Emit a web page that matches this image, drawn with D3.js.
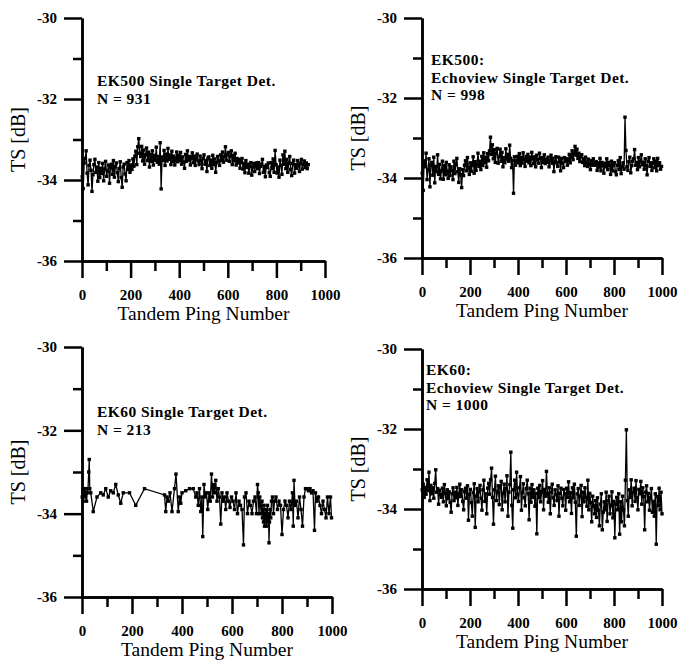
<!DOCTYPE html>
<html>
<head>
<meta charset="utf-8">
<script src="https://cdn.jsdelivr.net/npm/d3@7"></script>
<style>
  body { margin: 0; background: #fff; }
  svg text { font-family: "Liberation Serif", "Times New Roman", Times, serif; fill: #000; }
</style>
</head>
<body>
<div id="chart"></div>
<script>
// tick labels
var yMajorTicks = [-36, -34, -32, -30]
var yMinorTicks = [-35, -33, -31]
var xMajorTicks = [0, 200, 400, 600, 800, 1000]
var xMinorTicks = [100, 300, 500, 700, 900]

// EK500 single target detection, N = 931 (one value per ~4 pings)
var ek500Ts = [
  -33.92,-34.21,-33.58,-33.47,-33.28,-33.83,-34.12,-33.64,-33.51,-33.76,
  -34.28,-33.87,-33.62,-33.49,-33.81,-33.68,-34.03,-33.57,-33.94,-33.71,
  -33.84,-33.59,-34.02,-33.73,-33.54,-33.91,-33.78,-33.63,-34.08,-33.69,
  -33.61,-33.86,-33.52,-33.93,-33.67,-33.58,-33.82,-34.04,-33.72,-33.55,
  -33.94,-34.18,-33.68,-33.61,-33.85,-34.02,-33.57,-33.74,-33.52,-33.81,
  -33.63,-33.74,-33.48,-33.66,-33.41,-33.29,-33.62,-33.18,-32.98,-33.34,
  -33.42,-33.17,-33.53,-33.26,-33.61,-33.38,-33.21,-33.52,-33.31,-33.68,
  -33.37,-33.54,-33.28,-33.63,-33.39,-33.51,-33.19,-33.56,-33.42,-33.61,
  -33.08,-34.22,-33.43,-33.52,-33.27,-33.64,-33.36,-33.53,-33.22,-33.49,
  -33.38,-33.62,-33.29,-33.54,-33.41,-33.63,-33.47,-33.31,-33.55,-33.39,
  -33.52,-33.32,-33.61,-33.43,-33.56,-33.71,-33.37,-33.54,-33.28,-33.51,
  -33.42,-33.63,-33.46,-33.33,-33.57,-33.41,-33.64,-33.48,-33.36,-33.53,
  -33.62,-33.41,-33.53,-33.72,-33.47,-33.38,-33.61,-33.52,-33.79,-33.46,
  -33.43,-33.64,-33.51,-33.71,-33.39,-33.62,-33.48,-33.81,-33.57,-33.42,
  -33.53,-33.64,-33.38,-33.52,-33.31,-33.56,-33.42,-33.18,-33.51,-33.37,
  -33.32,-33.54,-33.41,-33.28,-33.62,-33.39,-33.53,-33.34,-33.63,-33.47,
  -33.58,-33.49,-33.71,-33.56,-33.47,-33.73,-33.59,-33.82,-33.52,-33.69,
  -33.61,-33.83,-33.66,-33.57,-33.88,-33.68,-33.59,-33.79,-33.64,-33.58,
  -33.72,-33.57,-33.84,-33.66,-33.61,-33.49,-33.81,-33.67,-33.92,-33.63,
  -33.69,-33.58,-33.82,-33.91,-33.57,-33.72,-33.48,-33.81,-33.27,-33.62,
  -33.83,-33.68,-33.93,-33.51,-33.64,-33.86,-33.38,-33.61,-33.29,-33.72,
  -33.49,-33.81,-33.58,-33.42,-33.74,-33.89,-33.59,-33.51,-33.83,-33.62,
  -33.71,-33.52,-33.63,-33.79,-33.58,-33.49,-33.73,-33.61,-33.53,-33.69,
  -33.58,-33.72,-33.62
]

// EK500 data, Echoview single target detection, N = 998
var ek500EvTs = [
  -33.88,-34.31,-33.57,-33.72,-33.38,-34.04,-33.79,-33.52,-34.22,-33.68,
  -33.61,-33.93,-33.48,-34.12,-33.71,-33.84,-33.42,-33.91,-33.66,-34.02,
  -33.82,-33.58,-34.03,-33.69,-33.92,-33.61,-33.83,-34.01,-33.67,-33.94,
  -33.72,-33.81,-34.04,-33.58,-33.89,-33.66,-33.51,-33.84,-34.11,-33.77,
  -33.92,-34.24,-33.79,-33.94,-33.68,-33.57,-33.82,-33.49,-33.73,-33.91,
  -33.62,-33.83,-33.68,-33.47,-33.88,-33.59,-33.81,-33.66,-33.38,-33.71,
  -33.58,-33.79,-33.46,-33.69,-33.37,-33.62,-33.48,-33.73,-33.39,-33.57,
  -33.32,-32.98,-33.41,-33.17,-33.52,-33.29,-33.61,-33.38,-33.26,-33.63,
  -33.47,-33.28,-33.58,-33.36,-33.72,-33.49,-33.62,-33.27,-33.53,-33.41,
  -33.58,-33.18,-33.51,-33.74,-33.56,-34.38,-33.47,-33.68,-33.57,-33.46,
  -33.62,-33.39,-33.69,-33.48,-33.63,-33.37,-33.54,-33.71,-33.46,-33.58,
  -33.41,-33.62,-33.48,-33.69,-33.36,-33.52,-33.64,-33.47,-33.72,-33.43,
  -33.54,-33.63,-33.38,-33.51,-33.74,-33.49,-33.61,-33.42,-33.64,-33.53,
  -33.61,-33.48,-33.72,-33.57,-33.43,-33.63,-33.51,-33.84,-33.59,-33.47,
  -33.62,-33.71,-33.48,-33.59,-33.82,-33.51,-33.63,-33.74,-33.49,-33.58,
  -33.52,-33.68,-33.57,-33.41,-33.62,-33.48,-33.32,-33.54,-33.39,-33.21,
  -33.43,-33.28,-33.51,-33.38,-33.59,-33.47,-33.42,-33.61,-33.52,-33.69,
  -33.48,-33.62,-33.71,-33.53,-33.64,-33.79,-33.57,-33.68,-33.52,-33.63,
  -33.68,-33.59,-33.81,-33.62,-33.73,-33.51,-33.82,-33.61,-33.69,-33.88,
  -33.63,-33.72,-33.52,-33.79,-33.61,-33.68,-33.91,-33.58,-33.82,-33.67,
  -33.62,-33.84,-33.92,-33.68,-33.57,-33.79,-33.49,-33.89,-33.71,-33.62,
  -33.78,-32.48,-33.31,-33.72,-33.81,-33.59,-33.48,-33.87,-33.69,-33.58,
  -33.52,-33.29,-33.68,-33.61,-33.79,-33.49,-33.72,-33.58,-33.42,-33.67,
  -33.61,-33.78,-33.52,-33.69,-33.92,-33.58,-33.49,-33.71,-33.62,-33.81,
  -33.63,-33.52,-33.74,-33.58,-33.82,-33.51,-33.69,-33.62,-33.78,-33.71
]

// EK60 single target detection, N = 213 (irregular ping numbers)
var ek60Ping = [
  1,3,5,7,9,11,13,15,18,21,24,27,29,31,35,45,60,75,85,95,
  105,115,125,135,145,155,165,190,215,250,330,335,340,345,352,360,370,376,385,390,
  395,400,415,430,445,455,460,465,470,475,480,483,488,493,498,503,508,513,518,522,
  526,530,535,540,545,550,555,560,565,570,575,580,586,592,598,604,610,616,622,628,
  634,640,646,650,656,662,668,674,680,686,692,698,702,705,708,711,714,717,720,722,
  724,726,728,730,732,734,736,738,740,742,744,746,748,750,752,755,758,762,766,770,
  776,782,788,794,800,806,812,818,824,830,836,842,845,848,852,858,864,870,876,882,
  888,894,900,906,912,918,924,930,934,940,946,952,958,964,970,976,982,988,994,998
]
var ek60Ts = [
  -33.6,-33.4,-33.7,-33.5,-33.4,-33.6,-33.4,-33.5,-33.7,-33.5,-33.4,-33.0,-32.7,-33.4,-33.5,-33.95,-33.6,-33.5,-33.55,-33.4,
  -33.6,-33.45,-33.5,-33.3,-33.55,-33.75,-33.5,-33.5,-33.8,-33.4,-33.55,-33.95,-33.6,-33.7,-33.5,-33.95,-33.4,-33.05,-33.95,-33.6,
  -33.75,-33.5,-33.45,-33.4,-33.4,-33.6,-33.5,-33.8,-33.4,-33.95,-33.6,-34.55,-33.3,-33.6,-33.5,-33.9,-33.5,-33.7,-33.05,-33.6,
  -33.3,-33.5,-33.2,-33.7,-33.4,-33.6,-34.25,-33.5,-33.7,-33.6,-33.9,-33.5,-33.7,-33.85,-33.6,-33.7,-33.9,-33.5,-34.0,-33.7,
  -33.8,-33.9,-34.75,-33.6,-33.5,-34.0,-33.7,-33.8,-34.0,-33.7,-33.6,-34.0,-33.3,-33.5,-34.0,-33.6,-33.8,-34.0,-33.7,-34.1,
  -33.9,-34.2,-33.8,-34.3,-34.0,-34.2,-33.9,-34.3,-34.1,-33.8,-34.2,-34.0,-34.7,-34.2,-33.9,-34.1,-33.7,-33.6,-34.0,-33.7,
  -33.6,-33.9,-33.7,-33.8,-34.5,-33.9,-33.7,-33.8,-34.1,-33.7,-33.9,-33.5,-34.3,-33.2,-33.8,-33.7,-34.1,-33.6,-33.9,-34.3,
  -33.6,-33.4,-33.4,-33.45,-33.4,-33.5,-33.45,-34.4,-33.5,-33.7,-33.6,-33.8,-34.0,-33.7,-33.9,-34.1,-33.6,-34.0,-33.6,-34.1
]

// EK60 data, Echoview single target detection, N = 1000
var ek60EvTs = [
  -33.52,-33.38,-33.71,-33.46,-33.63,-33.27,-33.54,-33.08,-33.79,-33.41,
  -33.62,-33.47,-33.73,-33.36,-33.02,-33.58,-33.49,-33.88,-33.53,-33.64,
  -33.71,-33.48,-33.82,-33.39,-33.61,-33.92,-33.52,-33.74,-33.57,-33.83,
  -34.08,-33.62,-33.47,-33.79,-33.58,-33.72,-33.46,-33.91,-33.61,-33.38,
  -33.69,-33.52,-33.81,-34.02,-33.57,-33.48,-33.73,-33.42,-34.28,-33.63,
  -33.51,-33.84,-34.18,-33.59,-33.37,-34.46,-33.68,-33.49,-33.82,-33.57,
  -33.41,-33.73,-34.03,-33.52,-33.28,-33.81,-33.62,-34.12,-33.48,-33.36,
  -33.63,-33.27,-32.98,-33.71,-34.38,-33.52,-33.18,-33.79,-33.58,-33.42,
  -33.89,-33.47,-33.31,-34.02,-33.61,-33.38,-33.82,-33.49,-33.17,-34.18,
  -33.58,-33.39,-32.58,-33.91,-34.48,-33.52,-33.28,-33.72,-33.08,-33.63,
  -33.81,-33.47,-33.19,-34.03,-33.58,-33.37,-33.72,-33.92,-33.49,-33.28,
  -33.62,-34.27,-33.48,-33.83,-33.39,-33.71,-33.52,-33.93,-33.61,-34.62,
  -33.48,-33.72,-33.41,-33.82,-33.57,-33.29,-34.02,-33.51,-33.68,-33.06,
  -33.61,-33.83,-33.47,-34.12,-33.58,-33.38,-33.72,-33.91,-33.52,-33.63,
  -33.79,-33.42,-34.18,-33.61,-33.48,-33.73,-33.92,-33.51,-33.62,-34.03,
  -33.48,-33.71,-33.32,-33.82,-33.59,-34.11,-33.47,-33.72,-33.38,-33.83,
  -34.68,-33.62,-33.49,-33.91,-33.68,-33.41,-34.19,-33.58,-33.82,-33.47,
  -33.72,-33.93,-33.28,-34.02,-33.61,-33.84,-34.32,-33.68,-33.92,-34.12,
  -33.79,-34.21,-33.72,-34.03,-34.42,-33.88,-33.62,-34.52,-34.08,-33.82,
  -34.02,-33.58,-34.31,-33.79,-33.68,-34.12,-33.91,-33.57,-34.22,-33.81,
  -34.72,-33.88,-33.71,-34.02,-33.62,-34.63,-33.82,-34.32,-33.68,-34.02,
  -34.42,-33.28,-32.02,-33.79,-34.18,-33.52,-33.71,-33.27,-33.92,-33.58,
  -33.48,-33.81,-33.29,-33.72,-34.02,-33.51,-33.62,-33.31,-33.88,-33.47,
  -33.69,-34.52,-33.58,-33.42,-33.82,-33.61,-34.03,-33.72,-33.49,-34.08,
  -33.81,-34.18,-33.62,-34.88,-33.69,-33.92,-33.48,-34.02,-33.58,-34.12
]

function evenPings(values, n) {
  // spread the sampled values over ping numbers 1..n
  var step = (n - 1) / (values.length - 1)
  return values.map(function(v, i){ return {ping: 1 + i*step, ts: v} })
}

var panels = [
  {x0:82, x1:325, yTop:18, yBot:261, tx:97, lines:['EK500 Single Target Det.','N = 931'], ly:[86,103.5],
   data: evenPings(ek500Ts, 931)},
  {x0:422, x1:662, yTop:18, yBot:258, tx:431, lines:['EK500:','Echoview Single Target Det.','N = 998'], ly:[65,82.5,100],
   data: evenPings(ek500EvTs, 998)},
  {x0:82, x1:332, yTop:347, yBot:597, tx:97, lines:['EK60 Single Target Det.','N = 213'], ly:[417,434.5],
   data: ek60Ping.map(function(p,i){ return {ping:p, ts:ek60Ts[i]} })},
  {x0:422, x1:662, yTop:349, yBot:589, tx:426, lines:['EK60:','Echoview Single Target Det.','N = 1000'], ly:[375,392.5,410],
   data: evenPings(ek60EvTs, 1000)}
]

var svg = d3.select('#chart').append('svg')
  .attr('width', 678).attr('height', 660)

function styleAxis(g){
  g.selectAll('path,line').attr('stroke','#000').attr('stroke-width',2.5)
  g.selectAll('text').attr('font-family','"Liberation Serif", "Times New Roman", Times, serif')
    .attr('font-weight','bold').attr('font-size',15).attr('fill','#000')
}

panels.forEach(function(p){
  var x = d3.scaleLinear().domain([0,1000]).range([p.x0, p.x1])
  var y = d3.scaleLinear().domain([-36,-30]).range([p.yBot, p.yTop])
  var g = svg.append('g')

  // minor ticks first, then major axes with labels
  g.append('g').attr('transform','translate('+p.x0+',0)')
    .call(d3.axisLeft(y).tickValues(yMinorTicks).tickSize(9).tickSizeOuter(0).tickFormat(''))
    .call(styleAxis)
  g.append('g').attr('transform','translate(0,'+p.yBot+')')
    .call(d3.axisBottom(x).tickValues(xMinorTicks).tickSize(10).tickSizeOuter(0).tickFormat(''))
    .call(styleAxis)
  g.append('g').attr('transform','translate('+p.x0+',0)')
    .call(d3.axisLeft(y).tickValues(yMajorTicks).tickSize(18).tickSizeOuter(0).tickPadding(7)
      .tickFormat(function(d){ return String(d) }))
    .call(styleAxis)
  g.append('g').attr('transform','translate(0,'+p.yBot+')')
    .call(d3.axisBottom(x).tickValues(xMajorTicks).tickSize(17).tickSizeOuter(0).tickPadding(11)
      .tickFormat(function(d){ return String(d) }))
    .call(styleAxis)

  // axis titles
  g.append('text')
    .attr('x', (p.x0+p.x1)/2).attr('y', p.yBot+59)
    .attr('text-anchor','middle').attr('font-size',19.5)
    .text('Tandem Ping Number')
  g.append('text')
    .attr('transform','translate('+(p.x0-57)+','+((p.yTop+p.yBot)/2)+') rotate(-90)')
    .attr('text-anchor','middle').attr('font-size',20)
    .text('TS [dB]')

  // series line and markers
  var line = d3.line().x(function(d){ return x(d.ping) }).y(function(d){ return y(d.ts) })
  g.append('path').datum(p.data)
    .attr('d', line).attr('fill','none').attr('stroke','#000').attr('stroke-width',1.3)
  g.selectAll('rect.pt').data(p.data).enter()
    .append('rect').attr('class','pt')
    .attr('x', function(d){ return x(d.ping) - 1.7 })
    .attr('y', function(d){ return y(d.ts) - 1.7 })
    .attr('width',3.4).attr('height',3.4).attr('fill','#000')

  // annotation
  g.selectAll('text.note').data(p.lines).enter()
    .append('text').attr('class','note')
    .attr('x', p.tx).attr('y', function(d,i){ return p.ly[i] })
    .attr('font-weight','bold').attr('font-size',15.5).attr('letter-spacing',0.45)
    .text(function(d){ return d })
})
</script>
</body>
</html>
